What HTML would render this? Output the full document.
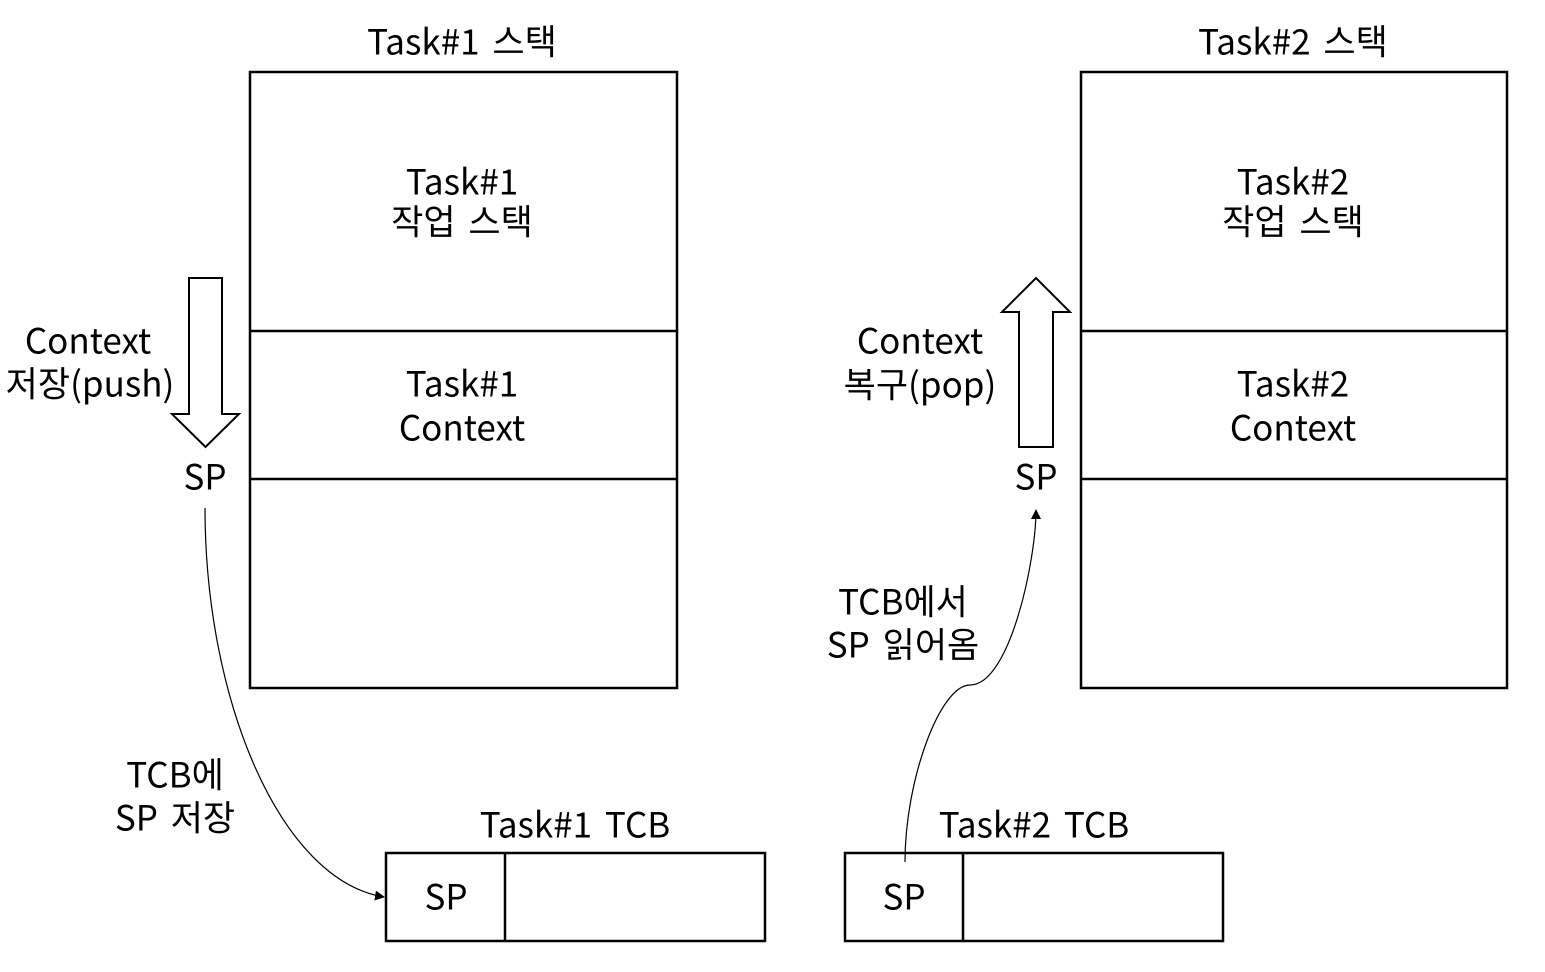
<!DOCTYPE html>
<html><head><meta charset="utf-8"><style>
html,body{margin:0;padding:0;background:#fff}
svg text{font-family:"Noto Sans CJK KR","Liberation Sans",sans-serif;font-size:35px;word-spacing:5px;fill:#000;text-anchor:middle;dominant-baseline:central}
</style></head><body>
<svg width="1545" height="967" viewBox="0 0 1545 967" xmlns="http://www.w3.org/2000/svg">
<defs><marker id="ah" markerWidth="10" markerHeight="10" refX="9" refY="5" orient="auto" markerUnits="userSpaceOnUse"><path d="M0,0 L10,5 L0,10 z" fill="#000"/></marker></defs>
<g fill="none" stroke="#000" stroke-width="2.5">
<rect x="250" y="72" width="427" height="616"/>
<line x1="250" y1="331" x2="677" y2="331"/><line x1="250" y1="479" x2="677" y2="479"/>
<rect x="1081" y="72" width="426" height="616"/>
<line x1="1081" y1="331" x2="1507" y2="331"/><line x1="1081" y1="479" x2="1507" y2="479"/>
<rect x="386" y="853" width="379" height="88"/><line x1="505" y1="853" x2="505" y2="941"/>
<rect x="845" y="853" width="378" height="88"/><line x1="963" y1="853" x2="963" y2="941"/>
<path d="M189,278 H222 V414 H239 L205.5,447 L172,414 H189 Z" stroke-width="2"/>
<path d="M1019,447 H1053 V312 H1070 L1036,278 L1002,312 H1019 Z" stroke-width="2"/>
</g>
<g fill="none" stroke="#000" stroke-width="1.2">
<path d="M205,508 C205,700 280,880 384,897" marker-end="url(#ah)"/>
<path d="M905,862 C905,780 940,685 970,685 C1010,685 1036,560 1036,510" marker-end="url(#ah)"/>
</g>
<g transform="translate(0,-2)">
<text x="462" y="42">Task#1 스택</text>
<text x="1293" y="42">Task#2 스택</text>
<text x="462" y="182">Task#1</text><text x="462" y="222">작업 스택</text>
<text x="462" y="384">Task#1</text><text x="462" y="428">Context</text>
<text x="1293" y="182">Task#2</text><text x="1293" y="222">작업 스택</text>
<text x="1293" y="384">Task#2</text><text x="1293" y="428">Context</text>
<text x="88" y="341">Context</text><text x="90" y="384">저장(push)</text>
<text x="920" y="341">Context</text><text x="920" y="385">복구(pop)</text>
<text x="205" y="477">SP</text><text x="1036" y="477">SP</text>
<text x="175" y="775">TCB에</text><text x="175" y="818">SP 저장</text>
<text x="903" y="602">TCB에서</text><text x="903" y="645">SP 읽어옴</text>
<text x="575" y="825">Task#1 TCB</text><text x="1034" y="825">Task#2 TCB</text>
<text x="446" y="897">SP</text><text x="904" y="897">SP</text>
</g>
</svg>
</body></html>
